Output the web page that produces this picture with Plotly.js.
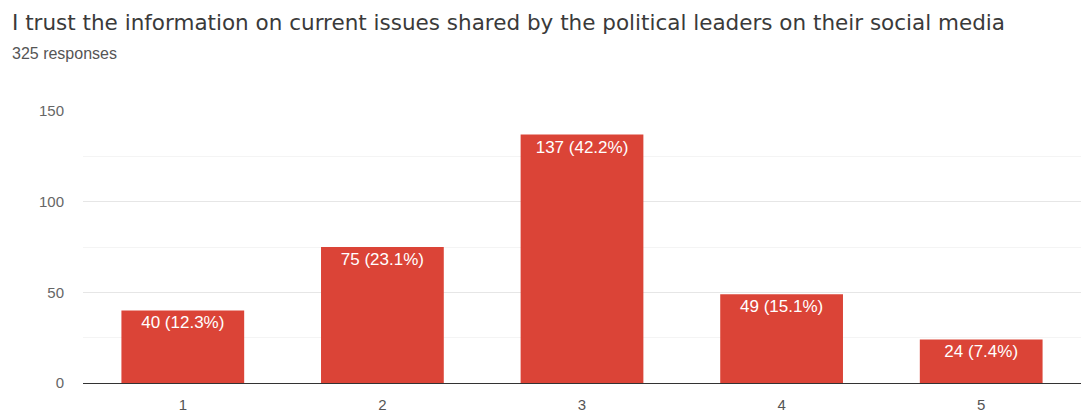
<!DOCTYPE html>
<html>
<head>
<meta charset="utf-8">
<script src="https://cdn.plot.ly/plotly-3.0.1.min.js"></script>
<style>html,body{margin:0;padding:0;background:#fff;}#chart{width:1081px;height:414px;}</style>
</head>
<body>
<div id="chart"></div>
<script>
const categories = ["1", "2", "3", "4", "5"];
const counts = [40, 75, 137, 49, 24];
const percents = ["12.3%", "23.1%", "42.2%", "15.1%", "7.4%"];
const yTickVals = [0, 50, 100, 150];
const titleText = "I trust the information on current issues shared by the political leaders on their social media";
const subtitleText = "325 responses";

const labels = counts.map((c, i) => c + " (" + percents[i] + ")");

const trace = {
  type: "bar",
  x: categories,
  y: counts,
  text: labels,
  textposition: "inside",
  insidetextanchor: "end",
  textangle: 0,
  constraintext: "none",
  textfont: {family: "Liberation Sans, Arial, sans-serif", size: 17, color: "#ffffff"},
  marker: {color: "#db4437", line: {width: 0}},
  width: 0.615,
  hoverinfo: "none"
};

const layout = {
  width: 1081,
  height: 414,
  margin: {l: 83, r: 0, t: 111, b: 31, pad: 0},
  paper_bgcolor: "#ffffff",
  plot_bgcolor: "#ffffff",
  showlegend: false,
  font: {family: "Liberation Sans, Arial, sans-serif", size: 14, color: "#444444"},
  xaxis: {
    type: "category",
    tickvals: categories,
    ticks: "",
    showgrid: false,
    showline: false,
    zeroline: false,
    ticklabelstandoff: 11,
    tickfont: {family: "Liberation Sans, Arial, sans-serif", size: 15, color: "#555555"},
    automargin: false
  },
  yaxis: {
    range: [0, 150],
    tickvals: yTickVals,
    ticks: "",
    showgrid: true,
    gridcolor: "#e6e6e6",
    gridwidth: 1,
    zeroline: true,
    zerolinecolor: "#333333",
    zerolinewidth: 1,
    showline: false,
    ticklabelstandoff: 18,
    tickfont: {family: "Liberation Sans, Arial, sans-serif", size: 15, color: "#666666"},
    minor: {dtick: 25, tick0: 0, showgrid: true, gridcolor: "#f4f4f4", gridwidth: 1, ticks: ""},
    automargin: false
  },
  annotations: [
    {text: titleText, xref: "paper", yref: "paper", x: -73/998, y: 1, yshift: 111 - 22, xanchor: "left", yanchor: "middle", showarrow: false,
     font: {family: "DejaVu Sans, sans-serif", size: 21.5, color: "#3a3a3a"}},
    {text: subtitleText, xref: "paper", yref: "paper", x: -73/998, y: 1, yshift: 111 - 53, xanchor: "left", yanchor: "middle", showarrow: false,
     font: {family: "Liberation Sans, Arial, sans-serif", size: 16, color: "#555555"}}
  ]
};

Plotly.newPlot("chart", [trace], layout, {displayModeBar: false, staticPlot: true});
</script>
</body>
</html>
